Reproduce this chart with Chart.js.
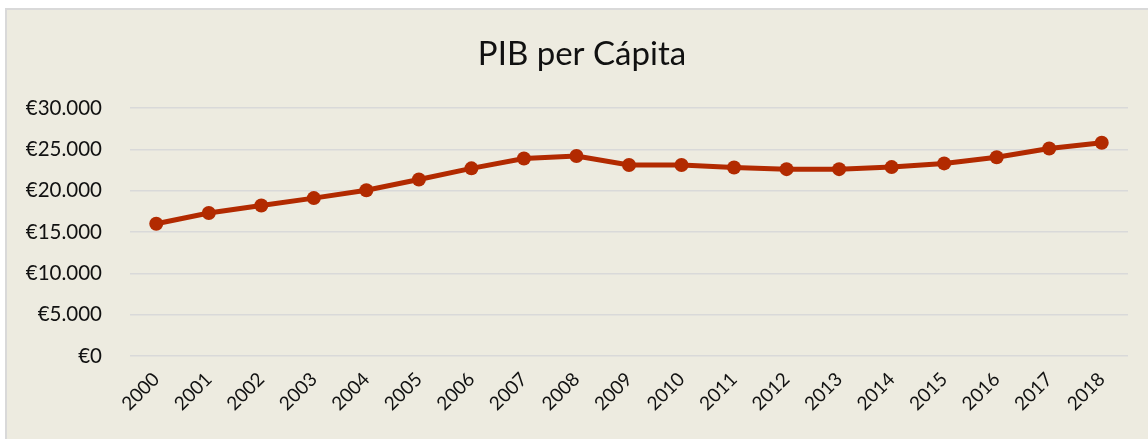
<!DOCTYPE html>
<html>
<head>
<meta charset="utf-8">
<script src="https://cdn.jsdelivr.net/npm/chart.js@4.4.1/dist/chart.umd.min.js"></script>
<style>
  html, body { margin: 0; padding: 0; background: #ffffff; overflow: hidden; }
  #wrap { position: absolute; left: 5px; top: 8px; width: 1148px; height: 440px;
          background: #EDEBE0; border-top: 2px solid #d9d9d9; border-left: 2px solid #d9d9d9; box-sizing: border-box; }
  #c { position: absolute; left: 0; top: 0; }
</style>
</head>
<body>
<div id="wrap"></div>
<canvas id="c" width="1164" height="439"></canvas>
<script>
const categories = ['2000','2001','2002','2003','2004','2005','2006','2007','2008','2009','2010','2011','2012','2013','2014','2015','2016','2017','2018'];
const pibPerCapita = [16000, 17300, 18200, 19100, 20050, 21350, 22700, 23900, 24200, 23100, 23100, 22800, 22600, 22600, 22850, 23300, 24050, 25100, 25800];
const yTicks = [0, 5000, 10000, 15000, 20000, 25000, 30000];
const chartTitle = 'PIB per Cápita';

const fmt = v => '€' + String(v).replace(/\B(?=(\d{3})+(?!\d))/g, '.');
const FONT = 'Lato, "Open Sans", sans-serif';

new Chart(document.getElementById('c'), {
  type: 'line',
  data: {
    labels: categories,
    datasets: [{
      data: pibPerCapita,
      yAxisID: 'y',
      borderColor: '#B22A00',
      backgroundColor: '#B22A00',
      borderWidth: 5,
      pointRadius: 7,
      pointHoverRadius: 7,
      pointBorderWidth: 0,
      tension: 0
    }]
  },
  options: {
    responsive: false,
    animation: false,
    layout: { padding: 0 },
    plugins: {
      legend: { display: false },
      tooltip: { enabled: false },
      title: {
        display: true,
        text: chartTitle,
        color: '#111111',
        font: { family: FONT, size: 33, weight: 'normal', lineHeight: 1.2 },
        padding: { top: 35, bottom: 33.4 }
      }
    },
    scales: {
      x: {
        offset: true,
        grid: { display: false, drawTicks: false },
        border: { display: false },
        ticks: {
          color: '#111111',
          font: { family: FONT, size: 19 },
          minRotation: 45, maxRotation: 45,
          padding: 12,
          autoSkip: false
        },
        afterFit: s => { s.height = 83; }
      },
      y: {
        min: 0, max: 30000,
        afterBuildTicks: s => { s.ticks = yTicks.map(v => ({ value: v })); },
        grid: { color: '#d9d9d9', lineWidth: 1.5, drawTicks: false },
        border: { display: false },
        ticks: {
          color: '#111111',
          font: { family: FONT, size: 20.5 },
          padding: 28,
          callback: v => fmt(v)
        },
        afterFit: s => { s.width = 130; }
      },
      yRight: {
        position: 'right',
        min: 0, max: 30000,
        grid: { display: false, drawTicks: false },
        border: { display: false },
        ticks: { display: false },
        afterFit: s => { s.width = 36; }
      }
    }
  }
});
</script>
</body>
</html>
